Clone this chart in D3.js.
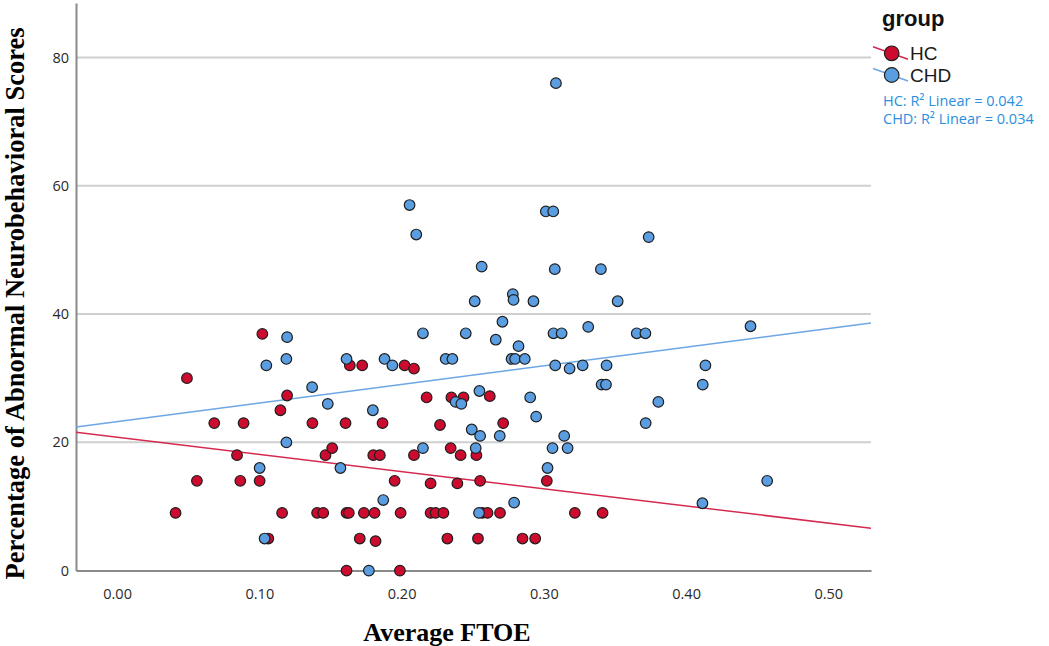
<!DOCTYPE html>
<html><head><meta charset="utf-8">
<script src="https://cdn.jsdelivr.net/npm/d3@7"></script>
<style>body{margin:0;background:#fff}</style>
</head><body><svg id="c" width="1049" height="646"></svg>
<script>
// ---- data ----
const groups = ["HC", "CHD"];
const hcX = [0.1021,0.0491,0.0683,0.0889,0.0843,0.0561,0.0866,0.1002,0.0411,0.1063,0.1148,0.1195,0.116,0.1373,0.1465,0.1512,0.1406,0.1449,0.1613,0.1613,0.1636,0.1606,0.1723,0.2021,0.2087,0.2176,0.1866,0.1801,0.1847,0.2087,0.1951,0.2204,0.1629,0.1735,0.181,0.1993,0.2204,0.1706,0.1817,0.1988,0.235,0.2435,0.262,0.227,0.2714,0.2345,0.2415,0.2526,0.2392,0.2552,0.3021,0.2239,0.2294,0.2568,0.2604,0.2692,0.3218,0.2322,0.2537,0.285,0.2939,0.3413];
const hcY = [36.9,30.0,23.0,23.0,18.0,14.0,14.0,14.0,9.0,5.0,25.0,27.3,9.0,23.0,18.0,19.1,9.0,9.0,9.0,0,32.0,23.0,32.0,32.0,31.5,27.0,23.0,18.0,18.0,18.0,14.0,13.6,9.0,9.0,9.0,9.0,9.0,5.0,4.6,0,27.0,27.0,27.2,22.7,23.0,19.1,18.0,18.0,13.6,14.0,14.0,9.0,9.0,9.0,9.0,9.0,9.0,5.0,5.0,5.0,5.0,9.0];
const chdX = [0.1049,0.1002,0.1037,0.1195,0.119,0.119,0.1371,0.1481,0.157,0.1613,0.188,0.1935,0.215,0.1798,0.215,0.1871,0.177,0.2451,0.2709,0.2662,0.2822,0.3068,0.3125,0.3312,0.231,0.2357,0.2773,0.2798,0.2866,0.308,0.3181,0.3273,0.238,0.242,0.2547,0.2904,0.2946,0.2493,0.2552,0.269,0.3143,0.2521,0.3061,0.3167,0.3026,0.2791,0.2544,0.3519,0.3653,0.3714,0.4453,0.3441,0.4136,0.3406,0.3437,0.4117,0.3805,0.3716,0.457,0.4115,0.2056,0.2103,0.3014,0.3066,0.3737,0.2563,0.3077,0.3401,0.2514,0.2782,0.2787,0.2927,0.3085];
const chdY = [32.0,16.0,5.0,36.4,33.0,20.0,28.6,26.0,16.0,33.0,33.0,32.0,37.0,25.0,19.1,11.0,0,37.0,38.8,36.0,35.0,37.0,37.0,38.0,33.0,33.0,33.0,33.0,33.0,32.0,31.5,32.0,26.3,26.0,28.0,27.0,24.0,22.0,21.0,21.0,21.0,19.1,19.1,19.1,16.0,10.6,9.0,42.0,37.0,37.0,38.1,32.0,32.0,29.0,29.0,29.0,26.3,23.0,14.0,10.5,57.0,52.4,56.0,56.0,52.0,47.4,47.0,47.0,42.0,43.1,42.2,42.0,76.0];
const fitIntercept = [20.8, 23.24];
const fitSlope = [-26.8, 29.0];
const r2Labels = ["HC: R\u00B2 Linear = 0.042", "CHD: R\u00B2 Linear = 0.034"];
const xTicks = [0, 0.1, 0.2, 0.3, 0.4, 0.5];
const yTicks = [0, 20, 40, 60, 80];
const gridTicks = [20, 40, 60, 80];

// ---- styles ----
const fills = ["#CC0B2F", "#5B9DE1"];
const lineCols = ["#D42A50", "#6DA6E4"];

const svg = d3.select("#c");
const x = d3.scaleLinear().domain([-0.0289, 0.530]).range([76, 871]);
const y = d3.scaleLinear().domain([0, 88.5]).range([570.6, 3]);

// gridlines
svg.append("g").selectAll("line").data(gridTicks).join("line")
  .attr("x1", x.range()[0]).attr("x2", x.range()[1])
  .attr("y1", d => y(d)).attr("y2", d => y(d))
  .attr("stroke", "#cfcfcf").attr("stroke-width", 2);

// axes
const yAxis = svg.append("g").attr("transform", `translate(${x.range()[0]},0)`)
  .call(d3.axisLeft(y).tickValues(yTicks).tickFormat(d3.format("d")).tickSize(0).tickSizeOuter(0).tickPadding(7));
const xAxis = svg.append("g").attr("transform", `translate(0,${y.range()[0]})`)
  .call(d3.axisBottom(x).tickValues(xTicks).tickFormat(d3.format(".2f")).tickSize(0).tickSizeOuter(0).tickPadding(18));
[yAxis, xAxis].forEach(a => {
  a.select(".domain").attr("stroke", "#8a8a8a").attr("stroke-width", 2);
  a.selectAll("text").attr("font-family", "'Open Sans', sans-serif").attr("font-size", 14.5).attr("fill", "#2a2a2a");
});

// fit lines
svg.append("clipPath").attr("id", "pc").append("rect")
  .attr("x", 76).attr("y", 3).attr("width", 795).attr("height", 568);
const xd = x.domain();
groups.forEach((g, i) => {
  svg.append("line").attr("clip-path", "url(#pc)")
    .attr("x1", x(xd[0])).attr("y1", y(fitIntercept[i] + fitSlope[i] * xd[0]))
    .attr("x2", x(xd[1])).attr("y2", y(fitIntercept[i] + fitSlope[i] * xd[1]))
    .attr("stroke", lineCols[i]).attr("stroke-width", 1.5);
});

// points
const seriesX = [hcX, chdX], seriesY = [hcY, chdY];
groups.forEach((g, i) => {
  svg.append("g").selectAll("circle").data(seriesX[i].map((v, j) => [v, seriesY[i][j]])).join("circle")
    .attr("cx", d => x(d[0])).attr("cy", d => y(d[1])).attr("r", 5.3)
    .attr("fill", fills[i]).attr("stroke", "#1e1e1e").attr("stroke-width", 1.2);
});

// axis titles
svg.append("text").attr("x", 447).attr("y", 641).attr("text-anchor", "middle")
  .attr("font-family", "'Liberation Serif', 'Times New Roman', serif").attr("font-weight", "bold").attr("font-size", 26)
  .text("Average FTOE");
svg.append("text").attr("transform", "translate(24,303.5) rotate(-90)").attr("text-anchor", "middle")
  .attr("font-family", "'Liberation Serif', 'Times New Roman', serif").attr("font-weight", "bold").attr("font-size", 26.5)
  .text("Percentage of Abnormal Neurobehavioral Scores");

// legend
svg.append("text").attr("x", 882).attr("y", 26)
  .attr("font-family", "'Liberation Sans', Arial, sans-serif").attr("font-weight", "bold").attr("font-size", 22)
  .attr("fill", "#111").text("group");
const legY = [53.3, 75];
groups.forEach((g, i) => {
  const cy = legY[i];
  svg.append("line").attr("x1", 873).attr("y1", cy - 6.5).attr("x2", 908).attr("y2", cy + 6)
    .attr("stroke", lineCols[i]).attr("stroke-width", 1.5);
  svg.append("circle").attr("cx", 891.7).attr("cy", cy).attr("r", 7.3)
    .attr("fill", fills[i]).attr("stroke", "#1e1e1e").attr("stroke-width", 1.2);
  svg.append("text").attr("x", 910).attr("y", cy + 7)
    .attr("font-family", "'Liberation Sans', Arial, sans-serif").attr("font-size", 19).attr("fill", "#1a1a1a").text(g);
  svg.append("text").attr("x", 883).attr("y", 106 + 18 * i)
    .attr("font-family", "'Open Sans', sans-serif").attr("font-size", 14.5).attr("fill", "#2A8FE0").text(r2Labels[i]);
});
</script></body></html>
